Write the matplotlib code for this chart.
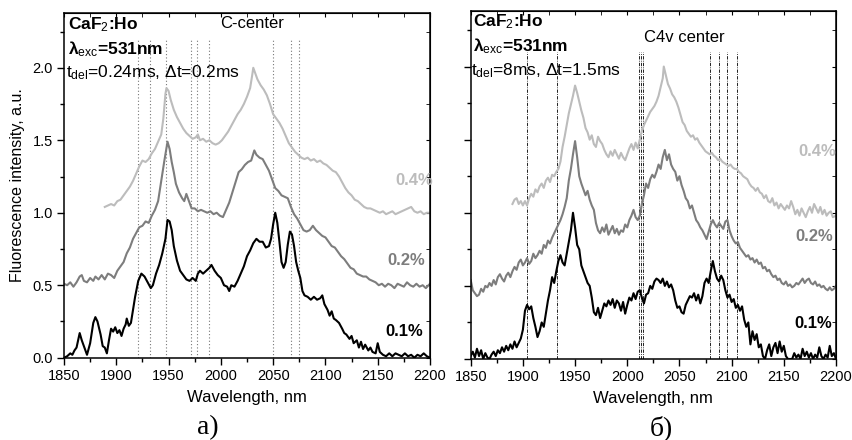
import numpy as np
import matplotlib
matplotlib.use("Agg")
import matplotlib.pyplot as plt
from matplotlib.ticker import MultipleLocator

plt.rcParams['font.family'] = ['Liberation Sans', 'DejaVu Sans']
plt.rcParams['mathtext.fontset'] = 'custom'
plt.rcParams['mathtext.rm'] = 'Liberation Sans'
plt.rcParams['mathtext.it'] = 'Liberation Sans:italic'
plt.rcParams['mathtext.bf'] = 'Liberation Sans:bold'

# ---- spectra: (wavelength nm, intensity a.u.) ----
# panel a) C-center, t_del = 0.24 ms
spec_a_01 = [
    (1850, 0.00), (1853, 0.01), (1856, 0.03), (1858, 0.02), (1860, 0.05), (1862, 0.07),
    (1865, 0.17), (1867, 0.12), (1870, 0.06), (1872, 0.02), (1875, 0.10), (1878, 0.24),
    (1880, 0.28), (1882, 0.25), (1885, 0.16), (1887, 0.08), (1889, 0.07), (1891, 0.03),
    (1893, 0.12), (1895, 0.20), (1897, 0.18), (1899, 0.21), (1901, 0.17), (1903, 0.19),
    (1905, 0.15), (1907, 0.20), (1909, 0.23), (1910, 0.27), (1912, 0.22), (1914, 0.24),
    (1916, 0.33), (1918, 0.42), (1921, 0.53), (1924, 0.58), (1927, 0.56), (1930, 0.52),
    (1933, 0.48), (1935, 0.50), (1938, 0.58), (1941, 0.64), (1944, 0.72), (1947, 0.82),
    (1949, 0.95), (1951, 0.94), (1953, 0.88), (1955, 0.77), (1958, 0.67), (1961, 0.60),
    (1964, 0.57), (1967, 0.54), (1970, 0.53), (1973, 0.55), (1976, 0.53), (1978, 0.58),
    (1980, 0.60), (1983, 0.58), (1986, 0.60), (1989, 0.62), (1991, 0.64), (1994, 0.60),
    (1997, 0.57), (2000, 0.55), (2003, 0.50), (2006, 0.49), (2008, 0.46), (2010, 0.50),
    (2013, 0.49), (2016, 0.53), (2019, 0.58), (2022, 0.63), (2025, 0.70), (2028, 0.74),
    (2031, 0.79), (2034, 0.82), (2037, 0.80), (2040, 0.80), (2043, 0.76), (2046, 0.77),
    (2048, 0.82), (2050, 0.92), (2052, 1.00), (2054, 0.93), (2056, 0.80), (2058, 0.66),
    (2060, 0.62), (2062, 0.66), (2064, 0.78), (2066, 0.87), (2068, 0.85), (2070, 0.77),
    (2072, 0.66), (2074, 0.60), (2076, 0.55), (2078, 0.46), (2080, 0.43), (2083, 0.42),
    (2086, 0.40), (2089, 0.42), (2092, 0.40), (2095, 0.41), (2097, 0.43), (2099, 0.37),
    (2102, 0.33), (2104, 0.29), (2106, 0.32), (2108, 0.27), (2110, 0.26), (2113, 0.24),
    (2116, 0.20), (2118, 0.17), (2120, 0.16), (2123, 0.13), (2125, 0.15), (2127, 0.10),
    (2130, 0.12), (2132, 0.07), (2134, 0.11), (2136, 0.06), (2138, 0.09), (2141, 0.05),
    (2143, 0.07), (2145, 0.04), (2148, 0.03), (2150, 0.10), (2152, 0.04), (2155, 0.02),
    (2158, 0.01), (2161, 0.03), (2164, 0.01), (2167, 0.03), (2170, 0.02), (2173, 0.01),
    (2176, 0.03), (2179, 0.01), (2182, 0.02), (2185, 0.00), (2188, 0.02), (2191, 0.01),
    (2194, 0.03), (2197, 0.01), (2200, 0.00),
]
spec_a_02 = [
    (1850, 0.51), (1853, 0.50), (1856, 0.52), (1859, 0.49), (1862, 0.52), (1865, 0.56),
    (1867, 0.57), (1869, 0.53), (1872, 0.52), (1875, 0.55), (1878, 0.53), (1880, 0.56),
    (1883, 0.54), (1886, 0.57), (1889, 0.54), (1892, 0.58), (1895, 0.57), (1898, 0.55),
    (1901, 0.60), (1904, 0.63), (1907, 0.66), (1910, 0.72), (1913, 0.76), (1916, 0.82),
    (1919, 0.86), (1922, 0.90), (1925, 0.91), (1928, 0.94), (1931, 0.93), (1934, 0.98),
    (1937, 1.02), (1940, 1.08), (1943, 1.22), (1946, 1.36), (1949, 1.49), (1951, 1.44),
    (1953, 1.35), (1955, 1.28), (1957, 1.20), (1960, 1.14), (1963, 1.10), (1965, 1.08),
    (1967, 1.13), (1969, 1.09), (1972, 1.03), (1975, 1.03), (1978, 1.01), (1981, 1.02),
    (1984, 1.01), (1987, 1.00), (1990, 1.01), (1993, 0.99), (1996, 1.00), (1999, 0.98),
    (2002, 0.97), (2005, 1.02), (2008, 1.07), (2011, 1.14), (2014, 1.21), (2017, 1.28),
    (2020, 1.30), (2023, 1.33), (2026, 1.35), (2029, 1.36), (2032, 1.43), (2034, 1.40),
    (2037, 1.38), (2040, 1.37), (2043, 1.33), (2046, 1.29), (2049, 1.23), (2052, 1.17),
    (2055, 1.15), (2058, 1.12), (2061, 1.11), (2064, 1.10), (2067, 1.04), (2070, 0.99),
    (2073, 0.96), (2076, 0.92), (2079, 0.88), (2082, 0.87), (2085, 0.88), (2088, 0.91),
    (2091, 0.88), (2094, 0.86), (2097, 0.84), (2100, 0.83), (2103, 0.80), (2106, 0.77),
    (2109, 0.76), (2112, 0.73), (2115, 0.70), (2118, 0.68), (2121, 0.65), (2124, 0.62),
    (2127, 0.61), (2130, 0.58), (2133, 0.57), (2136, 0.56), (2139, 0.56), (2142, 0.54),
    (2145, 0.53), (2148, 0.52), (2151, 0.50), (2154, 0.51), (2157, 0.49), (2160, 0.51),
    (2163, 0.50), (2166, 0.48), (2169, 0.51), (2172, 0.50), (2175, 0.49), (2178, 0.52),
    (2181, 0.50), (2184, 0.49), (2187, 0.51), (2190, 0.49), (2193, 0.50), (2196, 0.48),
    (2200, 0.51),
]
spec_a_04 = [
    (1889, 1.04), (1892, 1.05), (1895, 1.06), (1898, 1.05), (1901, 1.08), (1904, 1.09),
    (1907, 1.12), (1910, 1.15), (1913, 1.18), (1916, 1.22), (1919, 1.27), (1922, 1.32),
    (1925, 1.36), (1928, 1.35), (1931, 1.37), (1934, 1.41), (1937, 1.44), (1940, 1.49),
    (1943, 1.54), (1945, 1.65), (1947, 1.82), (1948, 1.86), (1950, 1.84), (1952, 1.78),
    (1955, 1.71), (1958, 1.66), (1961, 1.62), (1964, 1.58), (1967, 1.55), (1970, 1.53),
    (1973, 1.51), (1976, 1.52), (1978, 1.54), (1980, 1.50), (1983, 1.51), (1986, 1.49),
    (1989, 1.50), (1992, 1.48), (1995, 1.47), (1998, 1.48), (2001, 1.50), (2004, 1.53),
    (2007, 1.56), (2010, 1.60), (2013, 1.64), (2016, 1.68), (2019, 1.71), (2022, 1.75),
    (2025, 1.80), (2028, 1.86), (2030, 1.95), (2031, 2.00), (2033, 1.96), (2035, 1.92),
    (2038, 1.88), (2041, 1.85), (2044, 1.81), (2047, 1.75), (2050, 1.68), (2053, 1.65),
    (2056, 1.62), (2059, 1.58), (2062, 1.53), (2065, 1.48), (2068, 1.45), (2071, 1.42),
    (2074, 1.40), (2077, 1.38), (2080, 1.37), (2083, 1.38), (2086, 1.36), (2089, 1.37),
    (2092, 1.35), (2095, 1.36), (2098, 1.34), (2101, 1.33), (2104, 1.31), (2107, 1.29),
    (2110, 1.28), (2113, 1.25), (2116, 1.21), (2119, 1.17), (2122, 1.14), (2125, 1.12),
    (2128, 1.09), (2131, 1.08), (2134, 1.06), (2137, 1.04), (2140, 1.03), (2143, 1.03),
    (2146, 1.02), (2149, 1.01), (2152, 1.00), (2155, 1.01), (2158, 0.99), (2161, 1.00),
    (2164, 1.01), (2167, 0.99), (2170, 1.00), (2173, 1.01), (2176, 1.02), (2179, 1.03),
    (2182, 1.04), (2185, 1.01), (2188, 1.00), (2191, 1.01), (2194, 0.99), (2197, 1.00),
    (2200, 1.00),
]

# panel б) C4v center, t_del = 8 ms
spec_b_01 = [
    (1850, 0.02), (1852, 0.05), (1854, 0.01), (1856, 0.07), (1858, 0.02), (1860, 0.06),
    (1862, 0.00), (1864, 0.04), (1866, 0.01), (1868, 0.00), (1870, 0.03), (1872, 0.05),
    (1874, 0.02), (1876, 0.06), (1878, 0.04), (1880, 0.08), (1882, 0.05), (1884, 0.09),
    (1886, 0.06), (1888, 0.10), (1890, 0.07), (1892, 0.12), (1894, 0.08), (1896, 0.11),
    (1898, 0.14), (1900, 0.20), (1902, 0.33), (1904, 0.37), (1906, 0.34), (1908, 0.36),
    (1910, 0.28), (1912, 0.22), (1914, 0.15), (1916, 0.19), (1918, 0.25), (1920, 0.22),
    (1922, 0.31), (1924, 0.40), (1926, 0.47), (1928, 0.56), (1930, 0.52), (1932, 0.60),
    (1934, 0.67), (1936, 0.71), (1938, 0.66), (1940, 0.64), (1942, 0.72), (1944, 0.80),
    (1946, 0.88), (1948, 1.00), (1950, 0.90), (1952, 0.78), (1954, 0.75), (1956, 0.64),
    (1958, 0.60), (1960, 0.56), (1962, 0.52), (1964, 0.50), (1966, 0.42), (1968, 0.32),
    (1970, 0.30), (1972, 0.35), (1974, 0.28), (1976, 0.33), (1978, 0.38), (1980, 0.36),
    (1982, 0.40), (1984, 0.37), (1986, 0.41), (1988, 0.35), (1990, 0.40), (1992, 0.38),
    (1994, 0.33), (1996, 0.39), (1998, 0.31), (2000, 0.37), (2002, 0.42), (2004, 0.40),
    (2006, 0.45), (2008, 0.41), (2010, 0.46), (2012, 0.47), (2014, 0.42), (2016, 0.38),
    (2018, 0.44), (2020, 0.45), (2022, 0.50), (2024, 0.48), (2026, 0.53), (2028, 0.55),
    (2030, 0.54), (2032, 0.52), (2034, 0.55), (2036, 0.50), (2038, 0.53), (2040, 0.49),
    (2042, 0.51), (2044, 0.47), (2046, 0.40), (2048, 0.35), (2050, 0.36), (2052, 0.32),
    (2054, 0.31), (2056, 0.37), (2058, 0.40), (2060, 0.43), (2062, 0.42), (2064, 0.45),
    (2066, 0.40), (2068, 0.44), (2070, 0.38), (2072, 0.43), (2074, 0.52), (2076, 0.55),
    (2078, 0.52), (2080, 0.60), (2082, 0.67), (2084, 0.60), (2086, 0.55), (2088, 0.53),
    (2090, 0.57), (2092, 0.54), (2094, 0.47), (2096, 0.42), (2098, 0.44), (2100, 0.39),
    (2102, 0.41), (2104, 0.35), (2106, 0.37), (2108, 0.33), (2110, 0.36), (2112, 0.27),
    (2114, 0.22), (2116, 0.25), (2118, 0.10), (2120, 0.19), (2122, 0.13), (2124, 0.17),
    (2126, 0.08), (2128, 0.10), (2130, 0.02), (2132, 0.00), (2134, 0.06), (2136, 0.10),
    (2138, 0.02), (2140, 0.08), (2142, 0.11), (2144, 0.04), (2146, 0.12), (2148, 0.05),
    (2150, 0.09), (2152, 0.02), (2154, 0.00), (2156, 0.00), (2158, 0.00), (2160, 0.04),
    (2162, 0.01), (2164, 0.03), (2166, 0.00), (2168, 0.07), (2170, 0.02), (2172, 0.05),
    (2174, 0.01), (2176, 0.04), (2178, 0.00), (2180, 0.03), (2182, 0.01), (2184, 0.08),
    (2186, 0.02), (2188, 0.00), (2190, 0.03), (2192, 0.01), (2194, 0.09), (2196, 0.02),
    (2198, 0.04), (2200, 0.00),
]
spec_b_02 = [
    (1850, 0.54), (1852, 0.47), (1854, 0.45), (1856, 0.43), (1858, 0.44), (1860, 0.48),
    (1862, 0.46), (1864, 0.50), (1866, 0.49), (1868, 0.52), (1870, 0.50), (1872, 0.54),
    (1874, 0.51), (1876, 0.56), (1878, 0.58), (1880, 0.55), (1882, 0.53), (1884, 0.57),
    (1886, 0.59), (1888, 0.56), (1890, 0.60), (1892, 0.63), (1894, 0.61), (1896, 0.66),
    (1898, 0.68), (1900, 0.64), (1902, 0.66), (1904, 0.69), (1906, 0.65), (1908, 0.67),
    (1910, 0.72), (1912, 0.69), (1914, 0.71), (1916, 0.74), (1918, 0.72), (1920, 0.78),
    (1922, 0.76), (1924, 0.81), (1926, 0.79), (1928, 0.83), (1930, 0.86), (1932, 0.89),
    (1934, 0.92), (1936, 0.95), (1938, 0.99), (1940, 1.04), (1942, 1.10), (1944, 1.22),
    (1946, 1.30), (1948, 1.40), (1950, 1.49), (1952, 1.38), (1954, 1.25), (1956, 1.20),
    (1958, 1.16), (1960, 1.12), (1962, 1.15), (1964, 1.09), (1966, 1.05), (1968, 1.02),
    (1970, 0.93), (1972, 0.88), (1974, 0.86), (1976, 0.90), (1978, 0.87), (1980, 0.92),
    (1982, 0.85), (1984, 0.88), (1986, 0.91), (1988, 0.86), (1990, 0.89), (1992, 0.85),
    (1994, 0.88), (1996, 0.87), (1998, 0.92), (2000, 0.90), (2002, 0.95), (2004, 0.98),
    (2006, 1.02), (2008, 0.97), (2010, 0.95), (2012, 0.98), (2014, 1.06), (2016, 1.12),
    (2018, 1.20), (2020, 1.17), (2022, 1.23), (2024, 1.26), (2026, 1.24), (2028, 1.28),
    (2030, 1.33), (2032, 1.30), (2034, 1.38), (2036, 1.43), (2038, 1.36), (2040, 1.40),
    (2042, 1.33), (2044, 1.30), (2046, 1.28), (2048, 1.22), (2050, 1.25), (2052, 1.19),
    (2054, 1.15), (2056, 1.10), (2058, 1.08), (2060, 1.03), (2062, 1.05), (2064, 1.00),
    (2066, 0.95), (2068, 0.93), (2070, 0.90), (2072, 0.88), (2074, 0.85), (2076, 0.82),
    (2078, 0.87), (2080, 0.92), (2082, 0.95), (2084, 0.92), (2086, 0.90), (2088, 0.93),
    (2090, 0.91), (2092, 0.89), (2094, 0.94), (2096, 0.95), (2098, 0.88), (2100, 0.84),
    (2102, 0.81), (2104, 0.79), (2106, 0.80), (2108, 0.76), (2110, 0.74), (2112, 0.72),
    (2114, 0.70), (2116, 0.71), (2118, 0.68), (2120, 0.69), (2122, 0.66), (2124, 0.68),
    (2126, 0.65), (2128, 0.66), (2130, 0.62), (2132, 0.63), (2134, 0.60), (2136, 0.61),
    (2138, 0.58), (2140, 0.56), (2142, 0.57), (2144, 0.54), (2146, 0.55), (2148, 0.52),
    (2150, 0.51), (2152, 0.53), (2154, 0.50), (2156, 0.51), (2158, 0.49), (2160, 0.50),
    (2162, 0.52), (2164, 0.51), (2166, 0.53), (2168, 0.55), (2170, 0.52), (2172, 0.54),
    (2174, 0.55), (2176, 0.52), (2178, 0.51), (2180, 0.53), (2182, 0.50), (2184, 0.51),
    (2186, 0.49), (2188, 0.50), (2190, 0.48), (2192, 0.47), (2194, 0.49), (2196, 0.47),
    (2198, 0.48), (2200, 0.50),
]
spec_b_04 = [
    (1890, 1.06), (1892, 1.09), (1894, 1.10), (1896, 1.06), (1898, 1.08), (1900, 1.05),
    (1902, 1.08), (1904, 1.05), (1906, 1.10), (1908, 1.13), (1910, 1.11), (1912, 1.16),
    (1914, 1.14), (1916, 1.18), (1918, 1.20), (1920, 1.17), (1922, 1.22), (1924, 1.24),
    (1926, 1.21), (1928, 1.26), (1930, 1.25), (1932, 1.28), (1934, 1.30), (1936, 1.35),
    (1938, 1.45), (1940, 1.52), (1942, 1.60), (1944, 1.68), (1946, 1.74), (1948, 1.80),
    (1950, 1.87), (1952, 1.82), (1954, 1.76), (1956, 1.70), (1958, 1.65), (1960, 1.58),
    (1962, 1.55), (1964, 1.50), (1966, 1.53), (1968, 1.47), (1970, 1.45), (1972, 1.52),
    (1974, 1.49), (1976, 1.47), (1978, 1.43), (1980, 1.40), (1982, 1.38), (1984, 1.42),
    (1986, 1.39), (1988, 1.43), (1990, 1.40), (1992, 1.37), (1994, 1.41), (1996, 1.38),
    (1998, 1.36), (2000, 1.40), (2002, 1.44), (2004, 1.47), (2006, 1.43), (2008, 1.48),
    (2010, 1.44), (2012, 1.50), (2014, 1.56), (2016, 1.60), (2018, 1.63), (2020, 1.66),
    (2022, 1.69), (2024, 1.71), (2026, 1.73), (2028, 1.76), (2030, 1.80), (2032, 1.86),
    (2034, 1.92), (2035, 2.00), (2037, 1.94), (2039, 1.88), (2041, 1.85), (2043, 1.81),
    (2045, 1.79), (2047, 1.76), (2049, 1.72), (2051, 1.67), (2053, 1.62), (2055, 1.60),
    (2057, 1.56), (2059, 1.54), (2061, 1.52), (2063, 1.53), (2065, 1.50), (2067, 1.51),
    (2069, 1.48), (2071, 1.46), (2073, 1.44), (2075, 1.42), (2077, 1.41), (2079, 1.40),
    (2081, 1.41), (2083, 1.39), (2085, 1.38), (2087, 1.36), (2089, 1.37), (2091, 1.35),
    (2093, 1.34), (2095, 1.33), (2097, 1.32), (2099, 1.33), (2101, 1.31), (2103, 1.30),
    (2105, 1.30), (2107, 1.28), (2109, 1.27), (2111, 1.25), (2113, 1.24), (2115, 1.23),
    (2117, 1.20), (2119, 1.18), (2121, 1.17), (2123, 1.15), (2125, 1.17), (2127, 1.14),
    (2129, 1.13), (2131, 1.10), (2133, 1.12), (2135, 1.08), (2137, 1.07), (2139, 1.10),
    (2141, 1.05), (2143, 1.07), (2145, 1.03), (2147, 1.06), (2149, 1.04), (2151, 1.02),
    (2153, 1.05), (2155, 1.03), (2157, 1.08), (2159, 1.04), (2161, 0.99), (2163, 1.02),
    (2165, 0.98), (2167, 1.03), (2169, 1.00), (2171, 0.97), (2173, 1.01), (2175, 1.04),
    (2177, 1.00), (2179, 1.06), (2181, 1.03), (2183, 1.00), (2185, 1.04), (2187, 0.99),
    (2189, 1.02), (2191, 0.98), (2193, 1.00), (2195, 1.01), (2197, 0.97), (2200, 0.98),
]

# marker lines (nm)
lines_a = [1921, 1932, 1948, 1971, 1977, 1989, 2050, 2067, 2075]
lines_b = [1904, 1933, 2011.5, 2013, 2015, 2079.5, 2088, 2096, 2105]

conc_labels = ['0.4%', '0.2%', '0.1%']
conc_colors = ['#bcbcbc', '#7d7d7d', '#000000']

W, H = 852, 440
fig = plt.figure(figsize=(W / 100, H / 100), dpi=100)


def px_axes(x0, x1, ytop, ybot):
    return fig.add_axes([x0 / W, 1 - ybot / H, (x1 - x0) / W, (ybot - ytop) / H])


def style_axes(ax, show_ylabels):
    ax.set_xlim(1850, 2200)
    ax.set_ylim(0, 2.38)
    ax.xaxis.set_major_locator(MultipleLocator(50))
    ax.xaxis.set_minor_locator(MultipleLocator(25))
    ax.yaxis.set_major_locator(MultipleLocator(0.5))
    ax.yaxis.set_minor_locator(MultipleLocator(0.25))
    ax.tick_params(which='major', direction='out', length=5, width=1, labelsize=10.5, pad=3)
    ax.tick_params(which='minor', direction='out', length=3, width=1)
    if not show_ylabels:
        ax.tick_params(axis='y', labelleft=False)
    for s in ax.spines.values():
        s.set_linewidth(1.1)
    top = ax.secondary_xaxis('top')
    top.xaxis.set_major_locator(MultipleLocator(50))
    top.xaxis.set_minor_locator(MultipleLocator(25))
    top.tick_params(which='both', direction='in', labeltop=False, length=3)
    right = ax.secondary_yaxis('right')
    right.yaxis.set_major_locator(MultipleLocator(0.5))
    right.yaxis.set_minor_locator(MultipleLocator(0.25))
    right.tick_params(which='both', direction='in', labelright=False, length=3)
    ax.set_xlabel('Wavelength, nm', fontsize=12, labelpad=5)


def unpack(spec):
    wl = [p[0] for p in spec]
    it = [p[1] for p in spec]
    return wl, it


# ---- panel a ----
ax1 = px_axes(64, 430, 12.7, 357.7)
for x in lines_a:
    ax1.plot([x, x], [0, 2.2], ls=(0, (1, 2)), color='#777777', lw=0.8)
for spec, c in zip([spec_a_04, spec_a_02, spec_a_01], conc_colors):
    wl, it = unpack(spec)
    ax1.plot(wl, it, color=c, lw=1.5)
style_axes(ax1, True)
ax1.set_ylabel('Fluorescence intensity, a.u.', fontsize=11.5, labelpad=5)
for lab, c, x, y in zip(conc_labels, conc_colors, [2203, 2195, 2193], [1.22, 0.67, 0.18]):
    ax1.text(x, y, lab, color=c, fontsize=12, fontweight='bold', ha='right', va='center')

# ---- panel б ----
ax2 = px_axes(470.7, 836, 11, 359)
for x in lines_b:
    ax2.plot([x, x], [0, 2.1], ls=(0, (4, 1.5, 1, 1.5)), color='black', lw=0.6)
for spec, c in zip([spec_b_04, spec_b_02, spec_b_01], conc_colors):
    wl, it = unpack(spec)
    ax2.plot(wl, it, color=c, lw=1.5)
style_axes(ax2, False)
for lab, c, x, y in zip(conc_labels, conc_colors, [2200, 2197, 2196], [1.42, 0.84, 0.24]):
    ax2.text(x, y, lab, color=c, fontsize=12, fontweight='bold', ha='right', va='center')


# ---- annotations (figure pixels) ----
def ftext(x, y, s, **kw):
    fig.text(x / W, 1 - y / H, s, va='center', **kw)


ftext(68, 25, r'CaF$_2$:Ho', fontsize=12.5, fontweight='bold')
ftext(68, 49, r'$\mathbf{\lambda}_{\rm exc}$=531nm', fontsize=12.5, fontweight='bold')
ftext(66, 73, r't$_{\rm del}$=0.24ms, $\Delta$t=0.2ms', fontsize=12.5)
ftext(252, 24, 'C-center', fontsize=12, ha='center')

ftext(473, 22, r'CaF$_2$:Ho', fontsize=12.5, fontweight='bold')
ftext(473, 46, r'$\mathbf{\lambda}_{\rm exc}$=531nm', fontsize=12.5, fontweight='bold')
ftext(471, 71, r't$_{\rm del}$=8ms, $\Delta$t=1.5ms', fontsize=12.5)
ftext(684, 37, 'C4v center', fontsize=12, ha='center')

ftext(208, 428, 'a)', fontsize=20, ha='center', family='Liberation Serif')
ftext(661, 428, 'б)', fontsize=20, ha='center', family='Liberation Serif')

fig.savefig('out.png', dpi=100)
